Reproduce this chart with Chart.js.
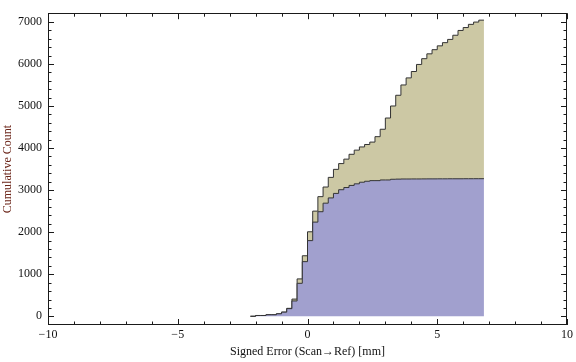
<!DOCTYPE html>
<html>
<head>
<meta charset="utf-8">
<script src="https://cdn.jsdelivr.net/npm/chart.js@4.4.0/dist/chart.umd.min.js"></script>
<style>
html, body { margin: 0; padding: 0; background: #fff; }
#wrap { width: 576px; height: 362px; }
</style>
</head>
<body>
<div id="wrap"><canvas id="mycanvas"></canvas></div>
<script>
// bin edges of the cumulative histogram (left edges + final right edge)
var binEdges = [-2.2, -2, -1.8, -1.6, -1.4, -1.2, -1, -0.8, -0.6, -0.4, -0.2,
	0, 0.2, 0.4, 0.6, 0.8, 1, 1.2, 1.4, 1.6, 1.8, 2, 2.2, 2.4, 2.6, 2.8,
	3, 3.2, 3.4, 3.6, 3.8, 4, 4.2, 4.4, 4.6, 4.8, 5, 5.2, 5.4, 5.6, 5.8,
	6, 6.2, 6.4, 6.6, 6.8];

// cumulative counts per bin, first (blue) set
var blueCount = [2, 20, 20, 38, 38, 60, 100, 183, 366, 785, 1300,
	1800, 2240, 2487, 2690, 2815, 2922, 3010, 3062, 3112, 3150, 3188, 3211, 3226, 3226,
	3242, 3242, 3258, 3262, 3265, 3265, 3266, 3266, 3267, 3268, 3268, 3269, 3269, 3270,
	3270, 3270, 3271, 3271, 3272, 3272];

// cumulative counts per bin, second (tan) set, stacked on the first
var tanCount = [0, 0, 0, 0, 0, 0, 0, 7, 44, 105, 140,
	210, 261, 358, 384, 488, 572, 621, 675, 740, 801, 839, 874, 916, 1045,
	1205, 1472, 1742, 1993, 2235, 2403, 2554, 2722, 2858, 2972, 3071, 3161, 3237, 3313,
	3412, 3526, 3594, 3670, 3723, 3769];

var xTicks = [-10, -5, 0, 5, 10];
var xMinor = [-9, -8, -7, -6, -4, -3, -2, -1, 1, 2, 3, 4, 6, 7, 8, 9];
var yTicks = [0, 1000, 2000, 3000, 4000, 5000, 6000, 7000];
var yMinor = [200, 400, 600, 800, 1200, 1400, 1600, 1800, 2200, 2400, 2600, 2800,
	3200, 3400, 3600, 3800, 4200, 4400, 4600, 4800, 5200, 5400, 5600, 5800,
	6200, 6400, 6600, 6800];

function toPoints(counts) {
	var pts = [];
	for (var i = 0; i < binEdges.length; i++) {
		pts.push({ x: binEdges[i], y: counts[Math.min(i, counts.length - 1)] });
	}
	return pts;
}

var serif = "'Liberation Serif', 'DejaVu Serif', serif";

// frame with inward ticks on all four sides, Mathematica style
var framePlugin = {
	id: 'frame',
	afterDraw: function(chart) {
		var ctx = chart.ctx;
		var a = chart.chartArea;
		var xs = chart.scales.x, ys = chart.scales.y;
		ctx.save();
		ctx.strokeStyle = '#1a1a1a';
		ctx.lineWidth = 1;
		ctx.strokeRect(Math.round(a.left) + 0.5, Math.round(a.top) + 0.5,
			Math.round(a.right - a.left) - 1, Math.round(a.bottom - a.top) - 1);
		ctx.beginPath();
		function xt(v, len) {
			var p = Math.round(xs.getPixelForValue(v)) + 0.5;
			ctx.moveTo(p, a.bottom); ctx.lineTo(p, a.bottom - len);
			ctx.moveTo(p, a.top); ctx.lineTo(p, a.top + len);
		}
		function yt(v, len) {
			var p = Math.round(ys.getPixelForValue(v)) + 0.5;
			ctx.moveTo(a.left, p); ctx.lineTo(a.left + len, p);
			ctx.moveTo(a.right, p); ctx.lineTo(a.right - len, p);
		}
		xTicks.forEach(function(v) { xt(v, 6); });
		xMinor.forEach(function(v) { xt(v, 3.5); });
		yTicks.forEach(function(v) { yt(v, 6); });
		yMinor.forEach(function(v) { yt(v, 3.5); });
		ctx.stroke();
		ctx.restore();
	}
};

var ctx = document.getElementById('mycanvas');

var histChart = new Chart(ctx, {
	type: 'line',
	data: {
		datasets: [
			{
				label: 'set 1',
				data: toPoints(blueCount),
				stepped: true,
				fill: 'origin',
				backgroundColor: 'rgb(161, 160, 206)',
				borderColor: '#333333',
				borderWidth: 1,
				pointRadius: 0
			},
			{
				label: 'set 2',
				data: toPoints(tanCount),
				stepped: true,
				fill: '-1',
				backgroundColor: 'rgb(204, 200, 164)',
				borderColor: '#333333',
				borderWidth: 1,
				pointRadius: 0
			}
		]
	},
	options: {
		responsive: true,
		maintainAspectRatio: false,
		animation: false,
		devicePixelRatio: 1,
		layout: { padding: { top: 1, right: 5, left: 0, bottom: 0 } },
		plugins: {
			legend: { display: false },
			tooltip: { enabled: false }
		},
		scales: {
			x: {
				type: 'linear',
				min: -10,
				max: 10,
				grid: { display: false, drawTicks: false },
				border: { display: false },
				afterBuildTicks: function(s) {
					s.ticks = xTicks.map(function(v) { return { value: v }; });
				},
				afterFit: function(s) { s.height = 37; },
				ticks: {
					padding: 3,
					maxRotation: 0,
					color: '#111',
					font: { family: serif, size: 12 },
					callback: function(v) { return v < 0 ? '\u2212' + Math.abs(v) : String(v); }
				},
				title: {
					display: true,
					text: 'Signed Error (Scan\u2192Ref) [mm]',
					color: '#111',
					font: { family: serif, size: 12 },
					padding: { top: 0, bottom: 3 }
				}
			},
			y: {
				type: 'linear',
				stacked: true,
				min: -206,
				max: 7206,
				grid: { display: false, drawTicks: false },
				border: { display: false },
				afterBuildTicks: function(s) {
					s.ticks = yTicks.map(function(v) { return { value: v }; });
				},
				afterFit: function(s) { s.width = 48; },
				ticks: {
					padding: 6,
					color: '#111',
					font: { family: serif, size: 12 },
					callback: function(v) { return String(v); }
				},
				title: {
					display: true,
					text: 'Cumulative Count',
					color: '#6b2418',
					font: { family: serif, size: 12 },
					padding: { top: 1, bottom: 0 }
				}
			}
		}
	},
	plugins: [framePlugin]
});
</script>
</body>
</html>
